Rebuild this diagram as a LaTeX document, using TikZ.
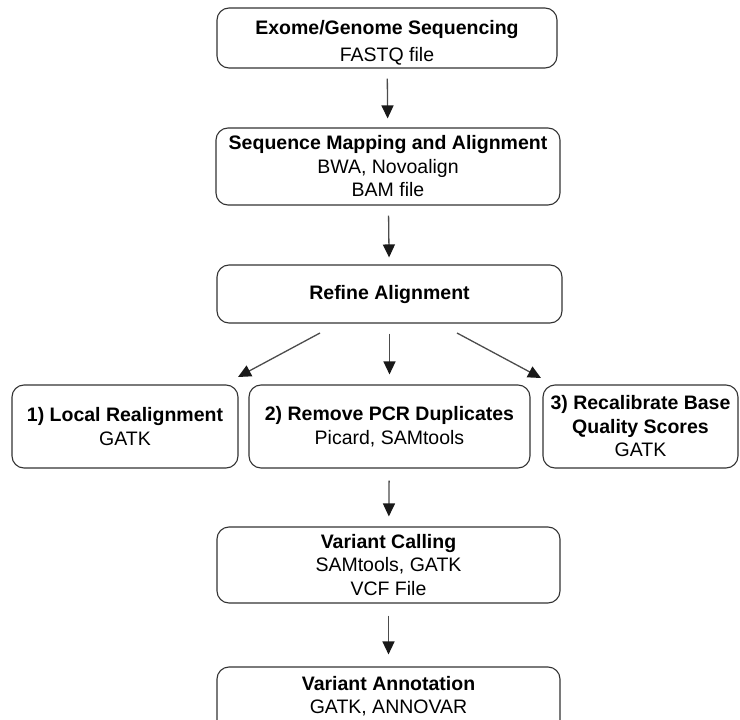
\documentclass[tikz,border=0pt]{standalone}
\usepackage{fontspec}
\setmainfont{Liberation Sans}
\usetikzlibrary{arrows.meta}
\begin{document}
\begin{tikzpicture}[x=1pt,y=-1pt,
  box/.style={draw=black!80, line width=1.1pt, rounded corners=12pt, align=center,
    inner sep=0pt, font=\fontsize{19.5}{23.5}\selectfont, text=black},
  arr/.style={-{Triangle[width=12pt,length=13pt,color=black!90]}, line width=1.3pt, draw=black!70}]
\useasboundingbox (0,0) rectangle (740,720);
\clip (0,0) rectangle (740,720);
\node[box, minimum width=340pt, minimum height=60pt] (seq) at (387,38)
  {\rule{0pt}{24pt}\textbf{Exome/Genome Sequencing}\\[4pt]FASTQ file};
\node[box, minimum width=344pt, minimum height=77pt] (map) at (388,166.5)
  {\textbf{Sequence Mapping and Alignment}\\BWA, Novoalign\\BAM file};
\node[box, minimum width=345pt, minimum height=58pt] (ref) at (389.5,294)
  {\textbf{Refine Alignment}};
\node[box, minimum width=226pt, minimum height=83pt] (loc) at (125,426.5)
  {\textbf{1) Local Realignment}\\GATK};
\node[box, minimum width=281pt, minimum height=83pt] (pcr) at (389.5,426.5)
  {\textbf{2) Remove PCR Duplicates}\\Picard, SAMtools};
\node[box, minimum width=195pt, minimum height=83pt] (rec) at (640.5,426.5)
  {\textbf{3) Recalibrate Base}\\\textbf{Quality Scores}\\GATK};
\node[box, minimum width=343pt, minimum height=76pt] (call) at (388.5,565)
  {\textbf{Variant Calling}\\SAMtools, GATK\\VCF File};
\node[box, minimum width=343pt, minimum height=68pt, text depth=12pt] (ann) at (388.5,701)
  {\textbf{Variant Annotation}\\GATK, ANNOVAR};

\coordinate (l0) at (320,333);
\coordinate (l1) at (238,377);
\coordinate (r0) at (457,333);
\coordinate (r1) at (541,378);

\draw[arr, shorten <=10pt, shorten >=9pt] (seq) -- (map);
\draw[arr, shorten <=10pt, shorten >=7pt] (map) -- (ref);
\draw[arr, shorten <=10pt, shorten >=10pt] (ref) -- (pcr);
\draw[arr] (l0) -- (l1);
\draw[arr] (r0) -- (r1);
\draw[arr, shorten <=12pt, shorten >=10pt] (pcr) -- (call);
\draw[arr, shorten <=12pt, shorten >=12pt] (call) -- (ann);
\end{tikzpicture}
\end{document}
